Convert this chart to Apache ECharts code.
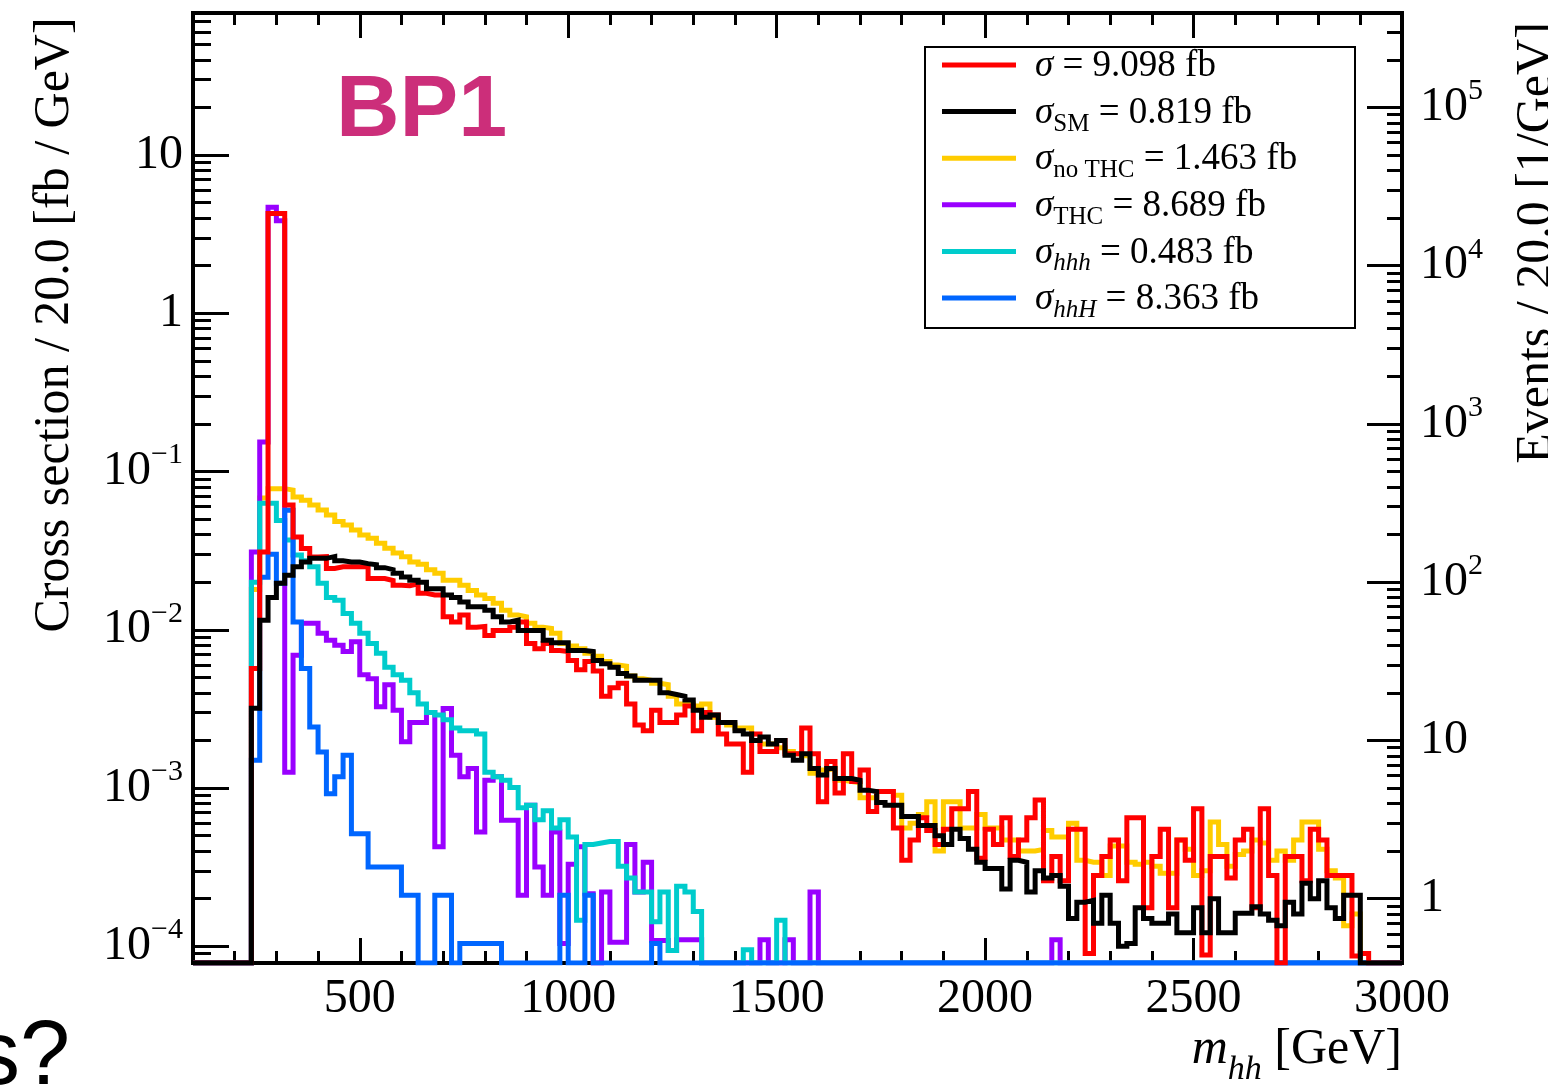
<!DOCTYPE html>
<html>
<head>
<meta charset="utf-8">
<title>BP1 m_hh</title>
<script src="https://cdn.jsdelivr.net/npm/echarts@6/dist/echarts.min.js"></script>
<style>
  html, body { margin: 0; padding: 0; background: #fff; }
  #chart { width: 1548px; height: 1086px; }
</style>
</head>
<body>
<div id="chart"></div>
<script>
// m_hh histogram, 20 GeV bins, first filled bin starts at 240 GeV
const binStart = 240
const binWidth = 20
const massRange = [100, 3000]

// cross section per bin [fb / 20 GeV], 0 = empty bin
const xsTotal = [
  0.0057, 0.031, 4.28, 4.28, 0.0614, 0.0386, 0.0327, 0.0289, 0.029, 0.0244,
  0.025, 0.025, 0.025, 0.025, 0.0211, 0.0211, 0.0205, 0.0191, 0.019, 0.0195,
  0.017, 0.0166, 0.0166, 0.0121, 0.0112, 0.0124, 0.0104, 0.0105, 0.0092, 0.0099,
  0.0099, 0.0104, 0.0112, 0.0082, 0.0076, 0.0082, 0.0074, 0.0073, 0.0064, 0.0056,
  0.0063, 0.0055, 0.0038, 0.0043, 0.0046, 0.0034, 0.0025, 0.0023, 0.0031, 0.0026,
  0.0026, 0.0029, 0.0033, 0.0023, 0.003, 0.0029, 0.0022, 0.0019, 0.0019, 0.00126,
  0.0022, 0.0017, 0.0017, 0.002, 0.00165, 0.00165, 0.0024, 0.00165, 0.00082, 0.00147,
  0.00093, 0.00165, 0.0011, 0.0013, 0.00071, 0.00095, 0.00095, 0.00056, 0.00035, 0.00047,
  0.00065, 0.00054, 0.00044, 0.00055, 0.00074, 0.00074, 0.00095, 0.00036, 0.00055, 0.00044,
  0.00065, 0.00037, 0.00047, 0.00065, 0.00084, 0.00026, 0.00037, 0.00026, 0.00055, 0.00055,
  0.00009, 0.00028, 0.00037, 0.00047, 0.00026, 0.00065, 0.00065, 0.000175, 0.00037, 0.00055,
  0.000175, 0.00047, 0.00035, 0.00074, 0.000088, 0.00037, 0.00037, 0.00027, 0.00047, 0.00055,
  0.000175, 0.00074, 0.00028, 0, 0.00037, 0.00037, 0.00026, 0.00055, 0.00047, 0.00028,
  0.00028, 0.00028, 0.000087, 0.00009
]
const xsSM = [
  0.0032, 0.0115, 0.016, 0.0197, 0.0221, 0.025, 0.0268, 0.0283, 0.0283, 0.029,
  0.0273, 0.0268, 0.0268, 0.0262, 0.0258, 0.0247, 0.024, 0.0228, 0.0216, 0.0206,
  0.02, 0.0182, 0.0182, 0.0166, 0.016, 0.015, 0.014, 0.014, 0.0133, 0.0121,
  0.0112, 0.0115, 0.0099, 0.0099, 0.0099, 0.0086, 0.0083, 0.0083, 0.0074, 0.0074,
  0.0073, 0.0064, 0.0061, 0.0058, 0.0053, 0.0051, 0.0048, 0.0048, 0.0048, 0.004,
  0.0039, 0.0038, 0.0036, 0.0031, 0.0028, 0.0029, 0.0026, 0.0026, 0.0023, 0.0022,
  0.002, 0.0021, 0.0019, 0.002, 0.00161, 0.0015, 0.00165, 0.00133, 0.00121, 0.00133,
  0.00115, 0.00115, 0.00112, 0.00097, 0.00095, 0.00081, 0.00078, 0.00078, 0.00066, 0.00066,
  0.00058, 0.00058, 0.0005, 0.00044, 0.00055, 0.00048, 0.00041, 0.00034, 0.00031, 0.00031,
  0.00023, 0.00035, 0.00034, 0.00022, 0.0003, 0.00027, 0.00028, 0.00024, 0.00015, 0.00019,
  0.000195, 0.00014, 0.00021, 0.00014, 0.0001, 0.000104, 0.000175, 0.00015, 0.00014, 0.00014,
  0.00016, 0.000122, 0.000122, 0.000175, 0.000122, 0.0002, 0.000122, 0.000122, 0.000162, 0.000162,
  0.000178, 0.00016, 0.000146, 0.000135, 0.00019, 0.00016, 0.00025, 0.0002, 0.00026, 0.000175,
  0.00015, 0.00021, 0.00021
]
const xsNoTHC = [
  0.018, 0.068, 0.078, 0.078, 0.0764, 0.0692, 0.0659, 0.0614, 0.0571, 0.0532,
  0.0483, 0.046, 0.0428, 0.0398, 0.0379, 0.0353, 0.0328, 0.0306, 0.029, 0.0268,
  0.026, 0.024, 0.0228, 0.0206, 0.0206, 0.0191, 0.0177, 0.0166, 0.0158, 0.0147,
  0.0133, 0.0124, 0.0121, 0.011, 0.0104, 0.0102, 0.0095, 0.0082, 0.0079, 0.0076,
  0.0071, 0.0068, 0.0063, 0.006, 0.0059, 0.0051, 0.0049, 0.0048, 0.0046, 0.0045,
  0.0038, 0.0034, 0.0034, 0.0033, 0.0034, 0.0028, 0.0026, 0.0025, 0.0024, 0.0024,
  0.002, 0.0019, 0.0019, 0.0018, 0.0017, 0.00165, 0.0016, 0.00124, 0.0013, 0.00133,
  0.00112, 0.0011, 0.00108, 0.00087, 0.00087, 0.00095, 0.00095, 0.0009, 0.00056, 0.0006,
  0.00068, 0.00082, 0.0004, 0.00082, 0.00082, 0.00056, 0.00056, 0.00068, 0.00056, 0.00056,
  0.00047, 0.00047, 0.0004, 0.0004, 0.00041, 0.00054, 0.00049, 0.00049, 0.0006, 0.00035,
  0.00034, 0.00034, 0.00028, 0.00043, 0.00043, 0.00034, 0.00033, 0.00034, 0.00032, 0.00029,
  0.00029, 0.00047, 0.00041, 0.00028, 0.0003, 0.00061, 0.00044, 0.00032, 0.00038, 0.0004,
  0.00047, 0.00045, 0.00035, 0.0004, 0.00035, 0.00047, 0.00061, 0.00061, 0.00041, 0.0003,
  0.00027, 0.000135, 0.00016
]
const xsTHC = [
  0.031, 0.154, 4.69, 3.85, 0.00126, 0.0069, 0.011, 0.011, 0.0095, 0.0086,
  0.008, 0.0073, 0.0084, 0.0052, 0.0049, 0.00326, 0.0045, 0.0031, 0.00196, 0.0026,
  0.0026, 0.003, 0.000425, 0.00318, 0.00161, 0.00118, 0.00133, 0.000528, 0.00112, 0.00118,
  0.000625, 0.000625, 0.00021, 0.00078, 0.000317, 0.00021, 0.000528, 0.000104, 0.00033, 0.000425,
  0.000215, 0, 0.00022, 0.000106, 0.000106, 0.00044, 0.00022, 0.00034, 0.000109, 0.000109,
  0.000094, 0.00011, 0.00011, 0.00011, 0, 0, 0, 0, 0, 0,
  0, 0.00011, 0, 0, 0.00011, 0, 0, 0.00022, 0, 0,
  0, 0, 0, 0, 0, 0, 0, 0, 0, 0,
  0, 0, 0, 0, 0, 0, 0, 0, 0, 0,
  0, 0, 0, 0, 0, 0, 0.00011
]
const xsHhh = [
  0.02, 0.063, 0.063, 0.049, 0.037, 0.0297, 0.0273, 0.025, 0.0197, 0.016,
  0.0154, 0.0127, 0.011, 0.0095, 0.0082, 0.0071, 0.0058, 0.0052, 0.0048, 0.004,
  0.0034, 0.003, 0.0029, 0.0027, 0.0024, 0.0023, 0.0023, 0.0022, 0.00126, 0.00118,
  0.00112, 0.00101, 0.00075, 0.00078, 0.00063, 0.00072, 0.00056, 0.00063, 0.00049, 0.000146,
  0.00044, 0.00045, 0.00046, 0.00046, 0.00032, 0.00027, 0.00022, 0.00022, 0.000143, 0.00022,
  0.000094, 0.00024, 0.00022, 0.000166, 0, 0, 0, 0, 0, 0.000095,
  0, 0, 0, 0.000146
]
const xsHhH = [
  0.0015, 0.0215, 0.03, 0.0197, 0.057, 0.0112, 0.0057, 0.00243, 0.00169, 0.00092,
  0.00118, 0.00161, 0.000515, 0.000515, 0.000317, 0.000317, 0.000317, 0.000317, 0.00021, 0.00021,
  0, 0, 0.00021, 0.00021, 0, 0.000104, 0.000104, 0.000104, 0.000104, 0.000104,
  0, 0, 0, 0, 0, 0, 0, 0.00021, 0, 0,
  0.00021, 0, 0, 0, 0, 0, 0, 0, 0.000104
]

const legendLabels = [
  '{i|σ}{t| = 9.098 fb}{pad| }',
  '{i|σ}{s|SM}{t| = 0.819 fb}',
  '{i|σ}{s|no THC}{t| = 1.463 fb}',
  '{i|σ}{s|THC}{t| = 8.689 fb}',
  '{i|σ}{si|hhh}{t| = 0.483 fb}',
  '{i|σ}{si|hhH}{t| = 8.363 fb}'
]
const legendColors = ['#ff0000', '#000000', '#ffcc00', '#9900ff', '#00cccc', '#0066ff']

const xTickValues = [500, 1000, 1500, 2000, 2500, 3000]
const yDecades = [-4, -3, -2, -1, 0, 1]
const eventDecades = [0, 1, 2, 3, 4, 5]
const lumi = 5000 // fb^-1, events = sigma * lumi

// log10 range of the cross-section axis
const yLogMin = -4.1055
const yLogMax = 1.898
const evShift = Math.log10(lumi)

const serif = 'Liberation Serif, Times New Roman, serif'

function histPoints (vals) {
  const pts = []
  for (let lo = massRange[0]; lo < massRange[1]; lo += binWidth) {
    const i = (lo - binStart) / binWidth
    const v = i >= 0 && i < vals.length ? vals[i] : 0
    const y = v > 0 ? Math.log10(v) : yLogMin // empty bins sit on the frame, as in ROOT
    pts.push([lo, y], [lo + binWidth, y])
  }
  return pts
}

function logMinors (lo, hi) {
  const out = []
  for (let d = Math.floor(lo) - 1; d <= Math.ceil(hi); d++) {
    for (let k = 2; k <= 9; k++) {
      const v = d + Math.log10(k)
      if (v > lo && v < hi) out.push(v)
    }
  }
  return out
}

function powLabel (n) {
  if (n === 0) return '1'
  if (n === 1) return '10'
  return '10{sup|' + (n < 0 ? '\u2212' + (-n) : n) + '}'
}

const xMinor = []
for (let m = 100; m <= 3000; m += 100) {
  if (m % 500 !== 0) xMinor.push(m)
}

const tickStyle = { color: '#000', width: 3 }
const labelRich = {
  sup: { fontFamily: serif, fontSize: 30, lineHeight: 30, verticalAlign: 'top', color: '#000' }
}

function xAxisCfg (pos, ticks, len, withLabels) {
  return {
    type: 'value',
    position: pos,
    min: massRange[0],
    max: massRange[1],
    axisLine: { show: false, onZero: false },
    splitLine: { show: false },
    axisTick: { show: true, inside: true, length: len, customValues: ticks, lineStyle: tickStyle },
    axisLabel: withLabels
      ? {
          show: true,
          customValues: ticks,
          margin: 12,
          fontFamily: serif,
          fontSize: 48,
          color: '#000',
          formatter: v => String(v)
        }
      : { show: false }
  }
}

function yAxisCfg (pos, lo, hi, ticks, len, withLabels, margin) {
  return {
    type: 'value',
    position: pos,
    min: lo,
    max: hi,
    axisLine: { show: false, onZero: false },
    splitLine: { show: false },
    axisTick: { show: true, inside: true, length: len, customValues: ticks, lineStyle: tickStyle },
    axisLabel: withLabels
      ? {
          show: true,
          customValues: ticks,
          margin: margin,
          fontFamily: serif,
          fontSize: 48,
          lineHeight: 62,
          color: '#000',
          formatter: v => powLabel(Math.round(v)),
          rich: labelRich
        }
      : { show: false }
  }
}

const seriesDefs = [
  { name: 'noTHC', vals: xsNoTHC, color: '#ffcc00' },
  { name: 'THC', vals: xsTHC, color: '#9900ff' },
  { name: 'hhh', vals: xsHhh, color: '#00cccc' },
  { name: 'hhH', vals: xsHhH, color: '#0066ff' },
  { name: 'total', vals: xsTotal, color: '#ff0000' },
  { name: 'SM', vals: xsSM, color: '#000000' }
]

// legend drawn by hand, ROOT style box; subscripts sit at the bottom of a 42px line
const legendRich = {
  i: { fontFamily: serif, fontSize: 37, fontStyle: 'italic', lineHeight: 37, verticalAlign: 'top' },
  t: { fontFamily: serif, fontSize: 37, lineHeight: 37, verticalAlign: 'top' },
  pad: { fontFamily: serif, fontSize: 10, lineHeight: 42, verticalAlign: 'bottom' },
  s: { fontFamily: serif, fontSize: 25, lineHeight: 42, verticalAlign: 'bottom' },
  si: { fontFamily: serif, fontSize: 25, fontStyle: 'italic', lineHeight: 42, verticalAlign: 'bottom' }
}
const legendItems = []
legendItems.push({
  type: 'rect',
  shape: { x: 925, y: 47, width: 430, height: 281 },
  style: { fill: '#fff', stroke: '#000', lineWidth: 2 }
})
legendLabels.forEach((txt, idx) => {
  const y = 65 + idx * 46.6
  legendItems.push({
    type: 'line',
    shape: { x1: 942, y1: y, x2: 1016, y2: y },
    style: { stroke: legendColors[idx], lineWidth: 5 }
  })
  legendItems.push({
    type: 'text',
    x: 1035,
    y: y + 4,
    style: {
      text: txt,
      fontFamily: serif,
      fontSize: 37,
      fill: '#000',
      align: 'left',
      verticalAlign: 'middle',
      textAlign: 'left',
      textVerticalAlign: 'middle',
      rich: legendRich
    }
  })
})

const chart = echarts.init(document.getElementById('chart'), null, { renderer: 'canvas' })

const option = {
  animation: false,
  backgroundColor: '#fff',
  grid: {
    left: 193,
    top: 13,
    width: 1209,
    height: 950,
    show: true,
    borderColor: '#000',
    borderWidth: 4,
    outerBoundsMode: 'none',
    containLabel: false
  },
  xAxis: [
    xAxisCfg('bottom', xTickValues, 25, true),
    xAxisCfg('bottom', xMinor, 12, false),
    xAxisCfg('top', xTickValues, 25, false),
    xAxisCfg('top', xMinor, 12, false)
  ],
  yAxis: [
    yAxisCfg('left', yLogMin, yLogMax, yDecades, 36, true, 10),
    yAxisCfg('left', yLogMin, yLogMax, logMinors(yLogMin, yLogMax), 18, false, 0),
    yAxisCfg('right', yLogMin + evShift, yLogMax + evShift, eventDecades, 35, true, 18),
    yAxisCfg('right', yLogMin + evShift, yLogMax + evShift, logMinors(yLogMin + evShift, yLogMax + evShift), 15, false, 0)
  ],
  series: seriesDefs.map(s => ({
    name: s.name,
    type: 'line',
    xAxisIndex: 0,
    yAxisIndex: 0,
    data: histPoints(s.vals),
    showSymbol: false,
    symbol: 'none',
    silent: true,
    clip: true,
    lineStyle: { color: s.color, width: 5, join: 'miter', cap: 'butt' },
    z: 3
  })),
  graphic: [
    {
      type: 'text',
      x: 55,
      y: 325,
      rotation: Math.PI / 2,
      style: {
        text: 'Cross section / 20.0 [fb / GeV]',
        fontFamily: serif,
        fontSize: 50,
        fill: '#000',
        align: 'center',
        verticalAlign: 'middle',
        textAlign: 'center',
        textVerticalAlign: 'middle'
      }
    },
    {
      type: 'text',
      x: 1537,
      y: 243,
      rotation: Math.PI / 2,
      style: {
        text: 'Events / 20.0 [1/GeV]',
        fontFamily: serif,
        fontSize: 50,
        fill: '#000',
        align: 'center',
        verticalAlign: 'middle',
        textAlign: 'center',
        textVerticalAlign: 'middle'
      }
    },
    {
      type: 'text',
      x: 1402,
      y: 1056,
      style: {
        text: '{i|m}{si|hh}{t| [GeV]}',
        fontFamily: serif,
        fontSize: 50,
        fill: '#000',
        align: 'right',
        verticalAlign: 'middle',
        textAlign: 'right',
        textVerticalAlign: 'middle',
        rich: {
          i: { fontFamily: serif, fontSize: 50, fontStyle: 'italic', lineHeight: 50, verticalAlign: 'top' },
          t: { fontFamily: serif, fontSize: 50, lineHeight: 50, verticalAlign: 'top' },
          si: { fontFamily: serif, fontSize: 34, fontStyle: 'italic', lineHeight: 62, verticalAlign: 'bottom' }
        }
      }
    },
    {
      type: 'text',
      x: 336,
      y: 112,
      style: {
        text: 'BP1',
        fontFamily: 'Liberation Sans, Arial, sans-serif',
        fontWeight: 'bold',
        fontSize: 88,
        fill: '#cc2e7a',
        align: 'left',
        verticalAlign: 'middle',
        textAlign: 'left',
        textVerticalAlign: 'middle'
      }
    },
    {
      type: 'text',
      x: 70,
      y: 1104,
      style: {
        text: 's?',
        fontFamily: 'Liberation Sans, Arial, sans-serif',
        fontSize: 90,
        fill: '#000',
        align: 'right',
        verticalAlign: 'bottom',
        textAlign: 'right',
        textVerticalAlign: 'bottom'
      }
    },
    {
      type: 'group',
      children: legendItems
    }
  ]
}

chart.setOption(option)
</script>
</body>
</html>
